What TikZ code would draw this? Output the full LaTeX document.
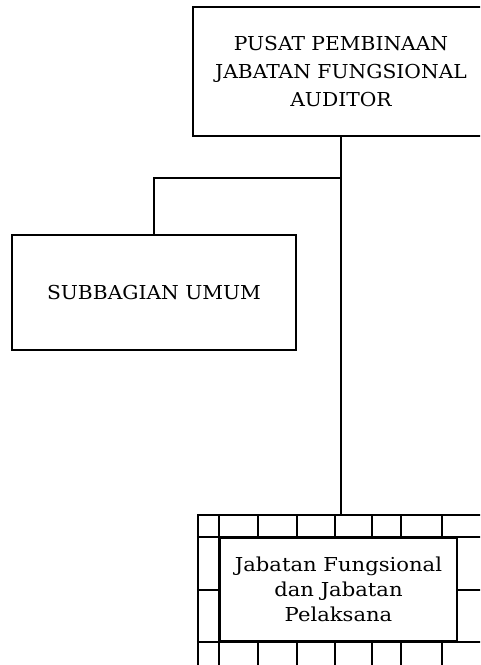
\documentclass[tikz,border=0pt]{standalone}
\usepackage{fontspec}
\setmainfont{DejaVu Serif}[FakeStretch=1.055]
\newfontfamily\lowfont{DejaVu Serif}[FakeStretch=1.1]
\begin{document}
\begin{tikzpicture}[
      x=1pt,
      y=-1pt,
      box/.style={draw, line width=2.6pt, align=center, inner sep=0pt,
        font=\fontsize{19.2}{27.7}\selectfont},
      grid/.style={line width=2pt},
      link/.style={line width=1.1pt}]
    \useasboundingbox (0,0) rectangle (480,665);
    \clip (0,0) rectangle (480,665);

    \node[box, minimum width=296, minimum height=129] (pusat)  at (341, 71.5)
      {PUSAT PEMBINAAN\\JABATAN FUNGSIONAL\\AUDITOR};
    \node[box, minimum width=284, minimum height=115] (subbag) at (154,292.5)
      {SUBBAGIAN UMUM};
    \node[box, line width=2.3pt, minimum width=288, minimum height=155] (frame) at (342,592.5) {};
    \coordinate (split) at (341,178);

    \draw[link] (pusat.south) -- (split);
    \draw[link] (split) -- (pusat.south |- frame.north);
    \draw[link] (split) -| (subbag.north);

    % tiles round the lower box
    \foreach \x in {258,297,335,372,401,442} {
      \draw[grid] (\x,515) -- (\x,538);
      \draw[grid] (\x,641) -- (\x,670);
    }
    \node[box, fill=white, minimum width=237, minimum height=103,
      font=\lowfont\fontsize{19.2}{25}\selectfont] (jabatan) at (338.5,589.5)
      {Jabatan Fungsional\\dan Jabatan\\Pelaksana};
    \draw[grid] (frame.west |- jabatan.north) -- (frame.east |- jabatan.north);
    \draw[grid] (frame.west |- jabatan.south) -- (frame.east |- jabatan.south);
    \draw[grid] (jabatan.west |- frame.north) -- (jabatan.west |- frame.south);
    \draw[grid] (frame.west |- jabatan.west) -- (jabatan.west);
    \draw[grid] (jabatan.east) -- (frame.east |- jabatan.east);

  \end{tikzpicture}
\end{document}
